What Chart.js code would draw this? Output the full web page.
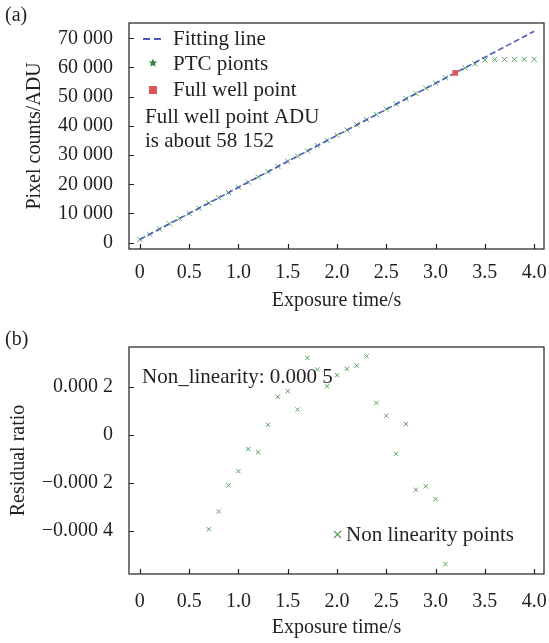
<!DOCTYPE html>
<html>
<head>
<meta charset="utf-8">
<script src="https://cdn.jsdelivr.net/npm/chart.js@4"></script>
<style>
html,body{margin:0;padding:0;background:#fff;}
#wrap{position:relative;width:549px;height:643px;overflow:hidden;}
canvas{position:absolute;left:0;}
#ca{top:0;}
#cb{top:324px;}
</style>
</head>
<body>
<div id="wrap">
<canvas id="ca" width="549" height="320"></canvas>
<canvas id="cb" width="549" height="319"></canvas>
</div>
<script>
// ---------- data: panel (a) ----------
const exposureTimes = [0,0.1,0.2,0.3,0.4,0.5,0.6,0.7,0.8,0.9,1.0,1.1,1.2,1.3,1.4,1.5,1.6,1.7,1.8,1.9,2.0,2.1,2.2,2.3,2.4,2.5,2.6,2.7,2.8,2.9,3.0,3.1,3.2,3.3,3.4,3.5,3.6,3.7,3.8,3.9,4.0];
const ptcCounts = [1120,2900,4690,6470,8260,10040,11830,13610,15400,17180,18970,20760,22540,24330,26120,27900,29680,31470,33250,35040,36820,38610,40390,42180,43960,45750,47530,49320,51100,52890,54670,56450,58152,59800,61250,62550,62750,62780,62790,62800,62800];
const fitX = [0, 4.0];
const fitY = [1120, 72400];
const fullWellX = [3.2];
const fullWellY = [58152];
const xTickValues = [0,0.5,1.0,1.5,2.0,2.5,3.0,3.5,4.0];
const xTickLabels = ['0','0.5','1.0','1.5','2.0','2.5','3.0','3.5','4.0'];
const yTickValuesA = [0,10000,20000,30000,40000,50000,60000,70000];
const yTickLabelsA = ['0','10 000','20 000','30 000','40 000','50 000','60 000','70 000'];
const legendLabelsA = ['Fitting line','PTC pionts','Full well point'];
const noteA = ['Full well point ADU','is about 58 152'];

// ---------- data: panel (b) ----------
const residualX = [0.7,0.8,0.9,1.0,1.1,1.2,1.3,1.4,1.5,1.6,1.7,1.8,1.9,2.0,2.1,2.2,2.3,2.4,2.5,2.6,2.7,2.8,2.9,3.0,3.1];
const residualY = [-0.000393,-0.000319,-0.000210,-0.000151,-0.000058,-0.000072,0.000043,0.000160,0.000183,0.000107,0.000322,0.000274,0.000204,0.000250,0.000277,0.000290,0.000329,0.000135,0.000081,-0.000078,0.000046,-0.000228,-0.000214,-0.000268,-0.000539];
const yTickValuesB = [-0.0004,-0.0002,0,0.0002];
const yTickLabelsB = ['\u22120.000 4','\u22120.000 2','0','0.000 2'];
const legendLabelB = 'Non linearity points';
const noteB = 'Non_linearity: 0.000 5';

// ---------- styles ----------
const FONT = '"Liberation Serif", "Times New Roman", serif';
const TXT = '#231f20';
const GREEN = '#56a056';
const GREEN_DARK = '#2f7d3a';
const RED = '#e0555a';
const BLUE = '#4b5cbc';

function pts(xs, ys){ return xs.map((x,i)=>({x:x, y:ys[i]})); }

function tickSetter(values){
  return function(scale){ scale.ticks = values.map(v=>({value:v})); };
}
function labelFor(values, labels){
  return function(v){ const i = values.findIndex(t=>Math.abs(t-v)<1e-9); return i>=0 ? labels[i] : ''; };
}

const framePlugin = {
  id:'frame',
  afterDatasetsDraw(chart){
    const {ctx, chartArea:a, scales} = chart;
    ctx.save();
    ctx.strokeStyle = TXT; ctx.lineWidth = 1.2;
    ctx.strokeRect(a.left, a.top, a.right-a.left, a.bottom-a.top);
    ctx.beginPath();
    scales.x.ticks.forEach(t=>{
      const p = Math.round(scales.x.getPixelForValue(t.value))+0.5;
      ctx.moveTo(p, a.bottom); ctx.lineTo(p, a.bottom-5);
    });
    scales.y.ticks.forEach(t=>{
      const p = Math.round(scales.y.getPixelForValue(t.value))+0.5;
      ctx.moveTo(a.left, p); ctx.lineTo(a.left+5, p);
    });
    ctx.stroke();
    ctx.restore();
  }
};

function drawStar(ctx, cx, cy, R, r){
  ctx.beginPath();
  for(let i=0;i<10;i++){
    const ang = -Math.PI/2 + i*Math.PI/5;
    const rad = i%2===0 ? R : r;
    const x = cx + rad*Math.cos(ang), y = cy + rad*Math.sin(ang);
    if(i===0) ctx.moveTo(x,y); else ctx.lineTo(x,y);
  }
  ctx.closePath(); ctx.fill();
}

const legendA = {
  id:'legendA',
  afterDraw(chart){
    const ctx = chart.ctx;
    ctx.save();
    ctx.font = '21px ' + FONT;
    ctx.fillStyle = TXT;
    ctx.textBaseline = 'middle';
    ctx.textAlign = 'left';
    ctx.strokeStyle = BLUE; ctx.lineWidth = 2; ctx.setLineDash([7,4]);
    ctx.beginPath(); ctx.moveTo(143,39); ctx.lineTo(163,39); ctx.stroke();
    ctx.setLineDash([]);
    ctx.fillText(legendLabelsA[0], 173, 39);
    ctx.fillStyle = GREEN_DARK; drawStar(ctx, 153, 63, 4.5, 2);
    ctx.fillStyle = TXT; ctx.fillText(legendLabelsA[1], 173, 64);
    ctx.fillStyle = RED; ctx.fillRect(149, 86, 8, 8);
    ctx.fillStyle = TXT; ctx.fillText(legendLabelsA[2], 173, 90);
    ctx.fillText(noteA[0], 145, 117);
    ctx.fillText(noteA[1], 145, 141);
    ctx.restore();
  }
};

const legendB = {
  id:'legendB',
  afterDraw(chart){
    const ctx = chart.ctx;
    ctx.save();
    ctx.font = '21px ' + FONT;
    ctx.fillStyle = TXT;
    ctx.textBaseline = 'middle';
    ctx.textAlign = 'left';
    ctx.fillText(noteB, 142, 53);
    ctx.strokeStyle = GREEN; ctx.lineWidth = 1.2;
    ctx.beginPath();
    ctx.moveTo(334,207); ctx.lineTo(341,214);
    ctx.moveTo(341,207); ctx.lineTo(334,214);
    ctx.stroke();
    ctx.fillText(legendLabelB, 346, 211);
    ctx.restore();
  }
};

const panelLabel = (txt) => ({
  id:'panelLabel',
  afterDraw(chart){
    const ctx = chart.ctx;
    ctx.save();
    ctx.font = '20px ' + FONT; ctx.fillStyle = TXT;
    ctx.textBaseline = 'middle'; ctx.textAlign = 'left';
    ctx.fillText(txt, 5, 16);
    ctx.restore();
  }
});

function xScale(bottomEdge, tickPad, titlePad){
  return {
    type:'linear', min:-0.11, max:4.10,
    afterBuildTicks: tickSetter(xTickValues),
    afterFit(s){ s.height = s.chart.height - bottomEdge; s.paddingLeft = 0; s.paddingRight = 0; },
    grid:{display:false, drawTicks:false},
    border:{display:false},
    ticks:{padding:tickPad, color:TXT, font:{family:FONT, size:20}, maxRotation:0, autoSkip:false,
      callback: labelFor(xTickValues, xTickLabels)},
    title:{display:true, text:'Exposure time/s', color:TXT, font:{family:FONT, size:20}, padding:{top:0,bottom:titlePad}}
  };
}

function yAfterFit(s){ s.width = 129; s.paddingTop = 0; s.paddingBottom = 0; }

const baseOpts = {
  responsive:false, animation:false, devicePixelRatio:1,
  layout:{padding:{top:23, right:4, bottom:0, left:0}},
  plugins:{legend:{display:false}, tooltip:{enabled:false}}
};

new Chart(document.getElementById('ca'), {
  type:'scatter',
  data:{datasets:[
    {label:'Full well point', data:pts(fullWellX, fullWellY), pointStyle:'rect', pointRadius:4,
      backgroundColor:RED, borderColor:RED, borderWidth:0},
    {label:'Fitting line', type:'line', data:pts(fitX, fitY), borderColor:BLUE, borderWidth:1.6,
      borderDash:[6,3], pointRadius:0, fill:false, showLine:true},
    {label:'PTC pionts', data:pts(exposureTimes, ptcCounts), pointStyle:'crossRot', pointRadius:3.6,
      borderColor:GREEN, backgroundColor:GREEN, borderWidth:1}
  ]},
  options:Object.assign({}, baseOpts, {
    scales:{
      x: xScale(249, 12, 7),
      y:{
        type:'linear', min:-2160, max:75240,
        afterBuildTicks: tickSetter(yTickValuesA),
        afterFit: yAfterFit,
        grid:{display:false, drawTicks:false},
        border:{display:false},
        ticks:{padding:16, color:TXT, font:{family:FONT, size:20}, autoSkip:false,
          callback: labelFor(yTickValuesA, yTickLabelsA)},
        title:{display:true, text:'Pixel counts/ADU', color:TXT, font:{family:FONT, size:20}, padding:{top:23,bottom:0}}
      }
    }
  }),
  plugins:[framePlugin, legendA, panelLabel('(a)')]
});

new Chart(document.getElementById('cb'), {
  type:'scatter',
  data:{datasets:[
    {label:legendLabelB, data:pts(residualX, residualY), pointStyle:'crossRot', pointRadius:3,
      borderColor:GREEN, backgroundColor:GREEN, borderWidth:1}
  ]},
  options:Object.assign({}, baseOpts, {
    scales:{
      x: xScale(250, 16, 3),
      y:{
        type:'linear', min:-0.00058, max:0.000368,
        afterBuildTicks: tickSetter(yTickValuesB),
        afterFit: yAfterFit,
        grid:{display:false, drawTicks:false},
        border:{display:false},
        ticks:{padding:16, color:TXT, font:{family:FONT, size:20}, autoSkip:false,
          callback: labelFor(yTickValuesB, yTickLabelsB)},
        title:{display:true, text:'Residual ratio', color:TXT, font:{family:FONT, size:20}, padding:{top:7,bottom:0}}
      }
    }
  }),
  plugins:[framePlugin, legendB, panelLabel('(b)')]
});
</script>
</body>
</html>
